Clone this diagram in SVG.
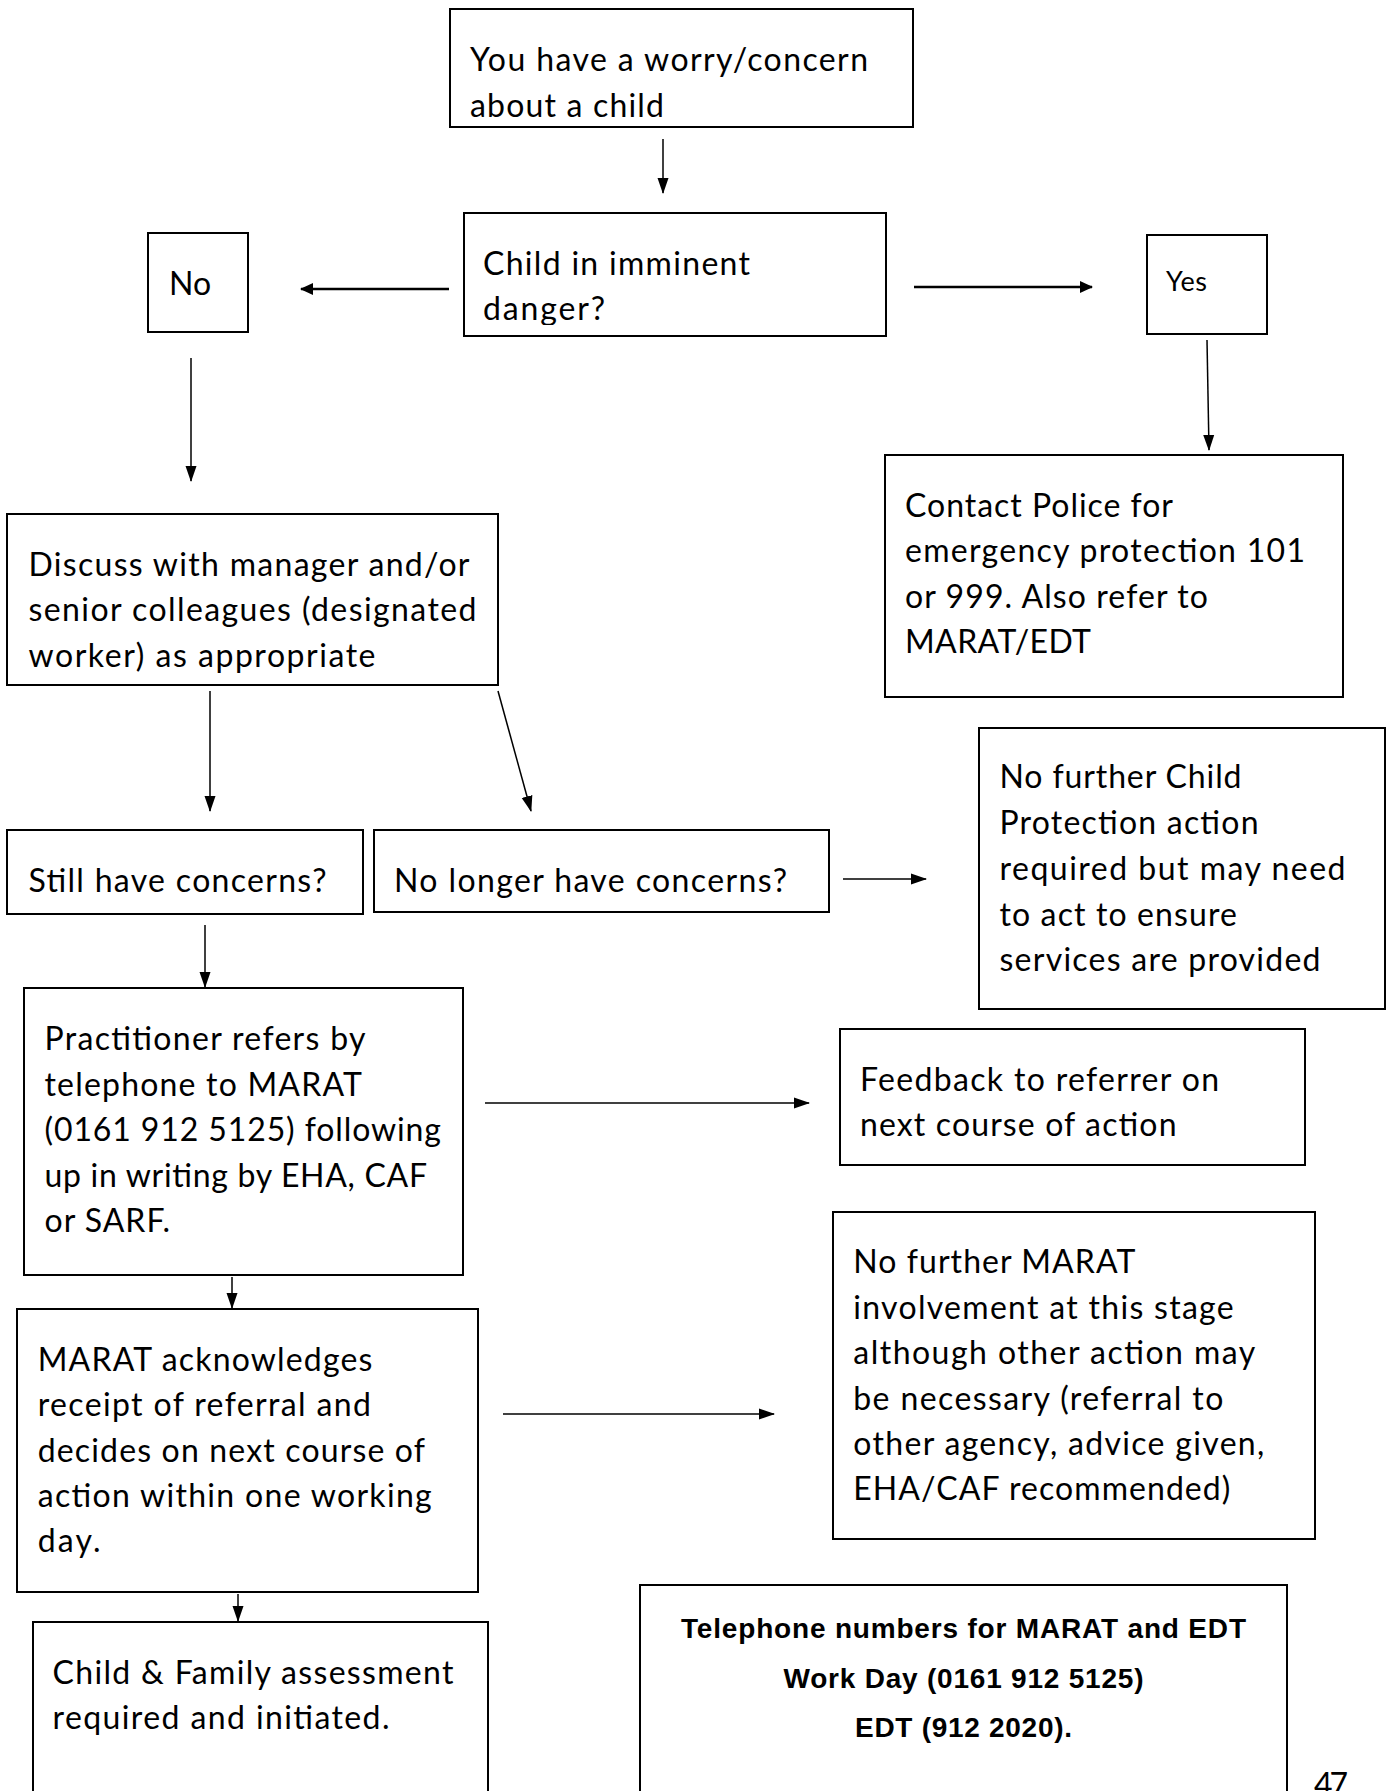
<svg xmlns="http://www.w3.org/2000/svg" width="1389" height="1791" viewBox="0 0 1389 1791">
<style>
  .box { fill: #fff; stroke: #000; stroke-width: 2; }
  .t { font-family: Lato, "Open Sans", "Liberation Sans", sans-serif; font-size: 32px; fill: #000; }
  .b { font-family: "Liberation Sans", Arial, sans-serif; font-size: 28px; font-weight: bold; fill: #000; text-anchor: middle; }
  .c { stroke: #000; stroke-width: 1.5; fill: none; marker-end: url(#ah); }
  .ct { stroke: #000; stroke-width: 2.5; fill: none; marker-end: url(#ah2); }
</style>
<defs>
  <marker id="ah" markerUnits="userSpaceOnUse" markerWidth="16" markerHeight="12" refX="15" refY="6" orient="auto">
    <path d="M0,0.5 L16,6 L0,11.5 z" fill="#000"/>
  </marker>
  <marker id="ah2" markerUnits="userSpaceOnUse" markerWidth="14" markerHeight="14" refX="12" refY="7" orient="auto">
    <path d="M0,1 L13,7 L0,13 z" fill="#000"/>
  </marker>
  <clipPath id="clip2"><rect x="464" y="213" width="422" height="112"/></clipPath>
</defs>
<rect width="1389" height="1791" fill="#fff"/>

<g id="connectors">
  <line class="c" x1="663" y1="139" x2="663" y2="193"/>
  <line class="ct" x1="449" y1="289" x2="301" y2="289"/>
  <line class="ct" x1="914" y1="287" x2="1092" y2="287"/>
  <line class="c" x1="191" y1="358" x2="191" y2="481"/>
  <line class="c" x1="1207" y1="340" x2="1209" y2="450"/>
  <line class="c" x1="210" y1="691" x2="210" y2="811"/>
  <line class="c" x1="498" y1="691" x2="531" y2="811"/>
  <line class="c" x1="843" y1="879" x2="926" y2="879"/>
  <line class="c" x1="205" y1="925" x2="205" y2="987"/>
  <line class="c" x1="485" y1="1103" x2="809" y2="1103"/>
  <line class="c" x1="232" y1="1277" x2="232" y2="1308"/>
  <line class="c" x1="503" y1="1414" x2="774" y2="1414"/>
  <line class="c" x1="238" y1="1594" x2="238" y2="1621"/>
</g>

<g id="n-worry">
  <rect class="box" x="450" y="9" width="463" height="118"/>
  <text class="t" x="470" y="71" textLength="398">You have a worry/concern</text>
  <text class="t" x="470" y="117" textLength="194">about a child</text>
</g>

<g id="n-danger">
  <rect class="box" x="464" y="213" width="422" height="123"/>
  <g clip-path="url(#clip2)">
    <text class="t" x="483" y="275" textLength="267">Child in imminent</text>
    <text class="t" x="483" y="320" textLength="122">danger?</text>
  </g>
</g>

<g id="n-no">
  <rect class="box" x="148" y="233" width="100" height="99"/>
  <text class="t" x="169" y="295" style="font-size:32px">No</text>
</g>

<g id="n-yes">
  <rect class="box" x="1147" y="235" width="120" height="99"/>
  <text class="t" x="1166" y="291" style="font-size:27px" textLength="41">Yes</text>
</g>

<g id="n-discuss">
  <rect class="box" x="7" y="514" width="491" height="171"/>
  <text class="t" x="28.5" y="576" textLength="441">Discuss with manager and/or</text>
  <text class="t" x="28.5" y="621" textLength="448">senior colleagues (designated</text>
  <text class="t" x="28.5" y="667" textLength="347">worker) as appropriate</text>
</g>

<g id="n-police">
  <rect class="box" x="885" y="455" width="458" height="242"/>
  <text class="t" x="905" y="517" textLength="268">Contact Police for</text>
  <text class="t" x="905" y="562" textLength="400">emergency protection 101</text>
  <text class="t" x="905" y="608" textLength="303">or 999. Also refer to</text>
  <text class="t" x="905" y="653" textLength="186">MARAT/EDT</text>
</g>

<g id="n-still">
  <rect class="box" x="7" y="830" width="356" height="84"/>
  <text class="t" x="28.5" y="892" textLength="298">Still have concerns?</text>
</g>

<g id="n-nolonger">
  <rect class="box" x="374" y="830" width="455" height="82"/>
  <text class="t" x="394" y="892" textLength="393">No longer have concerns?</text>
</g>

<g id="n-nofurtherchild">
  <rect class="box" x="979" y="728" width="406" height="281"/>
  <text class="t" x="999.5" y="788" textLength="242">No further Child</text>
  <text class="t" x="999.5" y="834" textLength="259">Protection action</text>
  <text class="t" x="999.5" y="880" textLength="346">required but may need</text>
  <text class="t" x="999.5" y="926" textLength="237.5">to act to ensure</text>
  <text class="t" x="999.5" y="971" textLength="321">services are provided</text>
</g>

<g id="n-practitioner">
  <rect class="box" x="24" y="988" width="439" height="287"/>
  <text class="t" x="44.5" y="1050" textLength="321">Practitioner refers by</text>
  <text class="t" x="44.5" y="1096" textLength="317.5">telephone to MARAT</text>
  <text class="t" x="44.5" y="1141" textLength="396.5">(0161 912 5125) following</text>
  <text class="t" x="44.5" y="1187" textLength="382.5">up in writing by EHA, CAF</text>
  <text class="t" x="44.5" y="1232" textLength="125.5">or SARF.</text>
</g>

<g id="n-feedback">
  <rect class="box" x="840" y="1029" width="465" height="136"/>
  <text class="t" x="860" y="1091" textLength="359">Feedback to referrer on</text>
  <text class="t" x="860" y="1136" textLength="316.5">next course of action</text>
</g>

<g id="n-marat">
  <rect class="box" x="17" y="1309" width="461" height="283"/>
  <text class="t" x="37.7" y="1371" textLength="334.7">MARAT acknowledges</text>
  <text class="t" x="37.7" y="1416" textLength="333.3">receipt of referral and</text>
  <text class="t" x="37.7" y="1462" textLength="387.3">decides on next course of</text>
  <text class="t" x="37.7" y="1507" textLength="394">action within one working</text>
  <text class="t" x="37.7" y="1552" textLength="62.8">day.</text>
</g>

<g id="n-nofurthermarat">
  <rect class="box" x="833" y="1212" width="482" height="327"/>
  <text class="t" x="853.3" y="1273" textLength="282">No further MARAT</text>
  <text class="t" x="853.3" y="1319" textLength="380.4">involvement at this stage</text>
  <text class="t" x="853.3" y="1364" textLength="402">although other action may</text>
  <text class="t" x="853.3" y="1410" textLength="370">be necessary (referral to</text>
  <text class="t" x="853.3" y="1455" textLength="411">other agency, advice given,</text>
  <text class="t" x="853.3" y="1500" textLength="377">EHA/CAF recommended)</text>
</g>

<g id="n-assessment">
  <rect class="box" x="33" y="1622" width="455" height="190"/>
  <text class="t" x="52.5" y="1684" textLength="401">Child &amp; Family assessment</text>
  <text class="t" x="52.5" y="1729" textLength="337">required and initiated.</text>
</g>

<g id="n-telephone">
  <rect class="box" x="640" y="1585" width="647" height="230"/>
  <text class="b" x="963.5" y="1638" textLength="565">Telephone numbers for MARAT and EDT</text>
  <text class="b" x="963.5" y="1688" textLength="360">Work Day (0161 912 5125)</text>
  <text class="b" x="963.5" y="1737" textLength="217">EDT (912 2020).</text>
</g>

<text class="t" x="1314" y="1796" textLength="34">47</text>
</svg>
